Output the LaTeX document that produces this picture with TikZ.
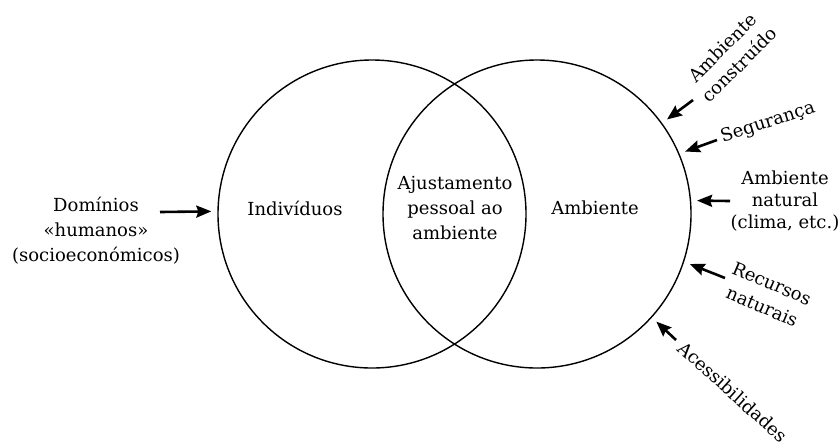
\documentclass[tikz,border=0pt]{standalone}
\usepackage{fontspec}
\setmainfont{DejaVu Serif}
\usetikzlibrary{arrows.meta}
\begin{document}
\begin{tikzpicture}[x=0.5pt,y=-0.5pt,
  ring/.style={circle,draw,line width=0.7pt,minimum size=154pt,inner sep=0pt},
  lbl/.style={font=\fontsize{9}{12.5}\selectfont,align=center,inner sep=0pt},
  arr/.style={line width=1.3pt,-{Stealth[length=7.5pt,width=6pt,inset=1pt]},shorten >=3pt}]
\useasboundingbox (0,0) rectangle (839,446);
\node[ring] (L) at (372,214) {};
\node[ring] (R) at (537,214) {};
\node[lbl] (ind) at (295,208) {Indivíduos};
\node[lbl] (aju) at (455,208) {Ajustamento\\pessoal ao\\ambiente};
\node[lbl] (amb) at (595,208) {Ambiente};
\node[lbl] (dom) at (96,231) {Domínios\\«humanos»\\(socioeconómicos)};
\node[lbl,rotate=45,font=\fontsize{9}{12}\selectfont] (ac) at (731,56) {Ambiente\\construído};
\node[lbl,rotate=18] (seg) at (768,123) {Segurança};
\node[lbl,font=\fontsize{9}{10.8}\selectfont] (an) at (785,201) {Ambiente\\natural\\(clima, etc.)};
\node[lbl,rotate=-23] (rn) at (767,295) {Recursos\\naturais};
\node[lbl,rotate=-42] (acs) at (733,392) {Acessibilidades};
\coordinate (t0) at (160,212);
\coordinate (t1) at (693,100);
\coordinate (t2) at (717,140);
\coordinate (t3) at (730,201);
\coordinate (t4) at (725,278);
\coordinate (t5) at (676,340);
\draw[arr] (t0) -- (L.180-0.75);
\draw[arr] (t1) -- (R.36);
\draw[arr] (t2) -- (R.23);
\draw[arr] (t3) -- (R.5);
\draw[arr] (t4) -- (R.-18);
\draw[arr] (t5) -- (R.-42);
\end{tikzpicture}
\end{document}
